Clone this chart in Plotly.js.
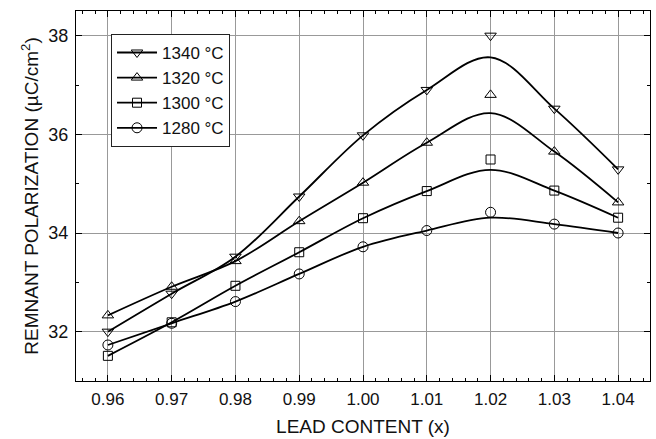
<!DOCTYPE html>
<html>
<head>
<meta charset="utf-8">
<script src="https://cdn.plot.ly/plotly-3.0.1.min.js"></script>
<style>
html,body{margin:0;padding:0;background:#fff;}
#chart{width:656px;height:439px;}
</style>
</head>
<body>
<div id="chart"></div>
<script>
// Lead content (x)
const leadContent = [0.96, 0.97, 0.98, 0.99, 1.00, 1.01, 1.02, 1.03, 1.04];

// Measured remnant polarization (µC/cm²) – markers
const p1340 = [32.00, 32.77, 33.52, 34.74, 35.98, 36.90, 38.00, 36.52, 35.29];
const p1320 = [32.33, 32.91, 33.43, 34.24, 35.02, 35.83, 36.80, 35.65, 34.62];
const p1300 = [31.51, 32.19, 32.93, 33.61, 34.30, 34.85, 35.49, 34.86, 34.31];
const p1280 = [31.73, 32.17, 32.61, 33.17, 33.72, 34.05, 34.42, 34.18, 34.00];

// Smoothed curves (peak near x = 1.02)
const c1340 = [32.00, 32.77, 33.52, 34.74, 35.98, 36.90, 37.56, 36.52, 35.29];
const c1320 = [32.33, 32.91, 33.43, 34.24, 35.02, 35.83, 36.43, 35.65, 34.62];
const c1300 = [31.51, 32.19, 32.93, 33.61, 34.30, 34.85, 35.28, 34.86, 34.31];
const c1280 = [31.73, 32.17, 32.61, 33.17, 33.72, 34.05, 34.31, 34.18, 34.00];

const seriesNames = ['1340 °C', '1320 °C', '1300 °C', '1280 °C'];
const symbols = ['triangle-down-open', 'triangle-up-open', 'square-open', 'circle-open'];
const sizes = [10, 10, 9, 10];
const pts = [p1340, p1320, p1300, p1280];
const curves = [c1340, c1320, c1300, c1280];

const traces = [];
for (let i = 0; i < 4; i++) {
  // curve trace shown in legend (markers hidden on plot, shown in legend)
  traces.push({
    x: leadContent, y: curves[i], type: 'scatter', mode: 'lines+markers',
    name: seriesNames[i],
    line: {color: '#000', width: 1.8, shape: 'spline', smoothing: 1},
    marker: {symbol: symbols[i], size: sizes[i], color: '#000', line: {width: 1, color: '#000'}},
    selectedpoints: [],
    unselected: {marker: {opacity: 0}},
    showlegend: true,
    hoverinfo: 'skip'
  });
  traces.push({
    x: leadContent, y: pts[i], type: 'scatter', mode: 'markers',
    name: seriesNames[i],
    marker: {symbol: symbols[i], size: sizes[i], color: '#000', line: {width: 1, color: '#000'}},
    showlegend: false
  });
}

const fontFam = 'Liberation Sans, Arial, Helvetica, sans-serif';
const layout = {
  width: 656, height: 439,
  margin: {l: 76, r: 6, t: 11, b: 58},
  paper_bgcolor: '#fff', plot_bgcolor: '#fff',
  font: {family: fontFam, size: 16, color: '#111'},
  showlegend: true,
  legend: {
    x: 0.061, y: 0.938, xanchor: 'left', yanchor: 'top',
    bgcolor: '#fff', bordercolor: '#222', borderwidth: 1,
    font: {family: fontFam, size: 17, color: '#111'},
    itemwidth: 40,
    traceorder: 'normal'
  },
  xaxis: {
    range: [0.955, 1.045], dtick: 0.01, tick0: 0.96, tickformat: '.2f',
    ticks: 'inside', ticklen: 6, tickcolor: '#000', tickwidth: 1,
    showline: true, linecolor: '#000', linewidth: 1, mirror: 'allticks',
    showgrid: true, gridcolor: '#999', gridwidth: 1, zeroline: false,
    minor: {dtick: 0.002, ticks: 'inside', ticklen: 3, tickcolor: '#000', showgrid: false},
    tickfont: {size: 17}, ticklabelstandoff: 3,
    title: {text: 'LEAD CONTENT (x)', font: {size: 19}, standoff: 11}
  },
  yaxis: {
    range: [31.0, 38.5], dtick: 2, tick0: 32,
    ticks: 'inside', ticklen: 6, tickcolor: '#000', tickwidth: 1,
    showline: true, linecolor: '#000', linewidth: 1, mirror: 'allticks',
    showgrid: true, gridcolor: '#999', gridwidth: 1, zeroline: false,
    minor: {dtick: 1, ticks: 'inside', ticklen: 3, tickcolor: '#000', showgrid: false},
    tickfont: {size: 18}, ticklabelstandoff: 3,
    title: {text: 'REMNANT POLARIZATION (µC/cm<sup>2</sup>)', font: {size: 19}, standoff: 4}
  }
};

Plotly.newPlot('chart', traces, layout, {staticPlot: true, displayModeBar: false});
</script>
</body>
</html>
